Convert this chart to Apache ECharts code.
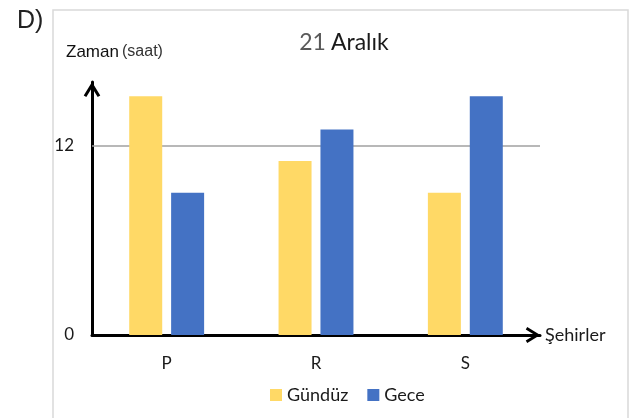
<!DOCTYPE html>
<html>
<head>
<meta charset="utf-8">
<script src="https://cdn.jsdelivr.net/npm/echarts@6/dist/echarts.min.js"></script>
<style>
html,body{margin:0;padding:0;background:#fff;}
#c{width:644px;height:418px;}
</style>
</head>
<body>
<div id="c"></div>
<script>
var categories = ['P', 'R', 'S'];
var gunduz = [15.1, 11, 9];
var gece = [9, 13, 15.1];
var yTickLabels = [0, 12];
var seriesNames = ['Gündüz', 'Gece'];

var chevron = 'path://M0,13 L8,0 L16,13 L13.5,14.5 L8,5.5 L2.5,14.5 Z';

var chart = echarts.init(document.getElementById('c'), null, {renderer: 'canvas'});
chart.setOption({
  animation: false,
  backgroundColor: '#fff',
  title: {
    text: '{g|21} {b|Aralık}',
    left: 339, top: 26, textAlign: 'center',
    textStyle: {
      fontWeight: 'normal',
      rich: {
        g: {fontFamily: 'Lato', fontSize: 23, fontWeight: 'normal', color: '#595959'},
        b: {fontFamily: 'Lato', fontSize: 23, fontWeight: 'normal', color: '#1a1a1a'}
      }
    }
  },
  graphic: [
    {type: 'rect', shape: {x: 53, y: 10, width: 575, height: 430},
     style: {fill: 'none', stroke: '#d9d9d9', lineWidth: 1.5}, z: -1},
    {type: 'text', x: 17, y: 9,
     style: {text: 'D)', font: '25px "Liberation Sans"', fill: '#222'}},
    {type: 'text', x: 66, y: 44,
     style: {text: 'Zaman', font: '17px "Liberation Sans"', fill: '#111'}},
    {type: 'text', x: 122, y: 44,
     style: {text: '(saat)', font: '16px "Liberation Sans"', fill: '#333'}}
  ],
  legend: {
    data: seriesNames,
    bottom: 9, left: 265,
    itemWidth: 12, itemHeight: 12, itemGap: 19,
    icon: 'rect',
    textStyle: {fontFamily: 'Lato', fontSize: 18, color: '#1a1a1a'}
  },
  grid: {left: 92, right: 104, top: 82, bottom: 83, containLabel: false},
  xAxis: {
    type: 'category',
    data: categories,
    name: 'Şehirler',
    nameLocation: 'end',
    nameGap: 5,
    nameTextStyle: {fontFamily: 'Lato', fontSize: 18, color: '#1a1a1a', verticalAlign: 'middle'},
    axisLine: {show: true, symbol: ['none', chevron], symbolSize: [16, 14.5], symbolOffset: [0, -7],
               lineStyle: {color: '#000', width: 3}},
    axisTick: {show: false},
    axisLabel: {fontFamily: 'Lato', fontSize: 17, color: '#1a1a1a', margin: 20}
  },
  yAxis: {
    type: 'value',
    min: 0, max: 16, interval: 4,
    axisLine: {show: true, symbol: ['none', chevron], symbolSize: [17, 15], symbolOffset: [0, -7.5],
               lineStyle: {color: '#000', width: 3}},
    axisTick: {show: false},
    splitLine: {show: false},
    axisLabel: {
      fontFamily: 'Lato', fontSize: 17, color: '#1a1a1a', margin: 18,
      formatter: function (v) { return yTickLabels.indexOf(v) >= 0 ? String(v) : ''; }
    }
  },
  series: [
    {
      name: seriesNames[0], type: 'bar', data: gunduz,
      barWidth: 33, barGap: '27%',
      itemStyle: {color: '#FFD966'},
      markLine: {
        silent: true, symbol: 'none', label: {show: false},
        lineStyle: {color: '#a0a0a0', width: 1.5, type: 'solid'},
        data: [{yAxis: yTickLabels[1]}],
        z: 1
      },
      z: 2
    },
    {
      name: seriesNames[1], type: 'bar', data: gece,
      barWidth: 33,
      itemStyle: {color: '#4472C4'},
      z: 2
    }
  ]
});
</script>
</body>
</html>
